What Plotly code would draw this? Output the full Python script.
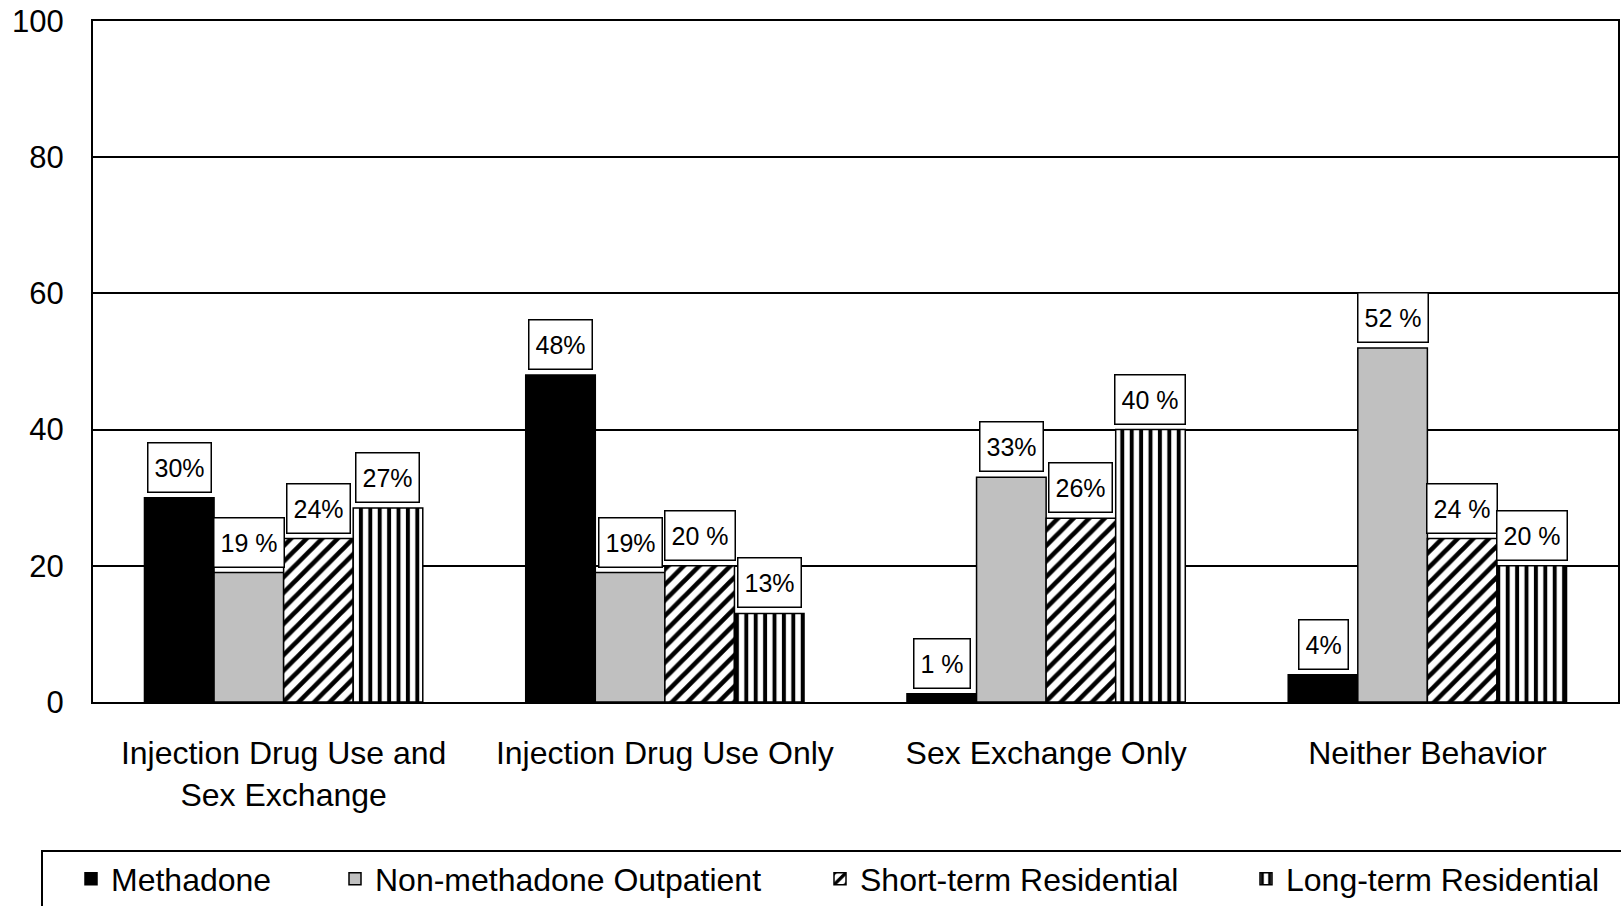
import plotly.graph_objects as go

categories = ["Injection Drug Use and<br>Sex Exchange", "Injection Drug Use Only",
              "Sex Exchange Only", "Neither Behavior"]
series_names = ["Methadone", "Non-methadone Outpatient", "Short-term Residential", "Long-term Residential"]

methadone = [30, 48, 1.2, 4]
non_methadone = [19, 19, 33, 52]
short_term = [24, 20, 27, 24]
long_term = [28.5, 13, 40, 20]

methadone_lbl = ["30%", "48%", "1 %", "4%"]
non_methadone_lbl = ["19 %", "19%", "33%", "52 %"]
short_term_lbl = ["24%", "20 %", "26%", "24 %"]
long_term_lbl = ["27%", "13%", "40 %", "20 %"]

y_ticks = [0, 20, 40, 60, 80, 100]

FONT = "Liberation Sans, Arial, Helvetica, sans-serif"
W, H = 1621, 906
# plot area in page coordinates: left 93, right 1618, top 21, bottom 702
ML, MT = 93, 21
MR = W - 1618
MB = H - 702
PW = W - ML - MR
PH = H - MT - MB


def page_y(py):
    return (702 - py) / PH


def page_x(px):
    return (px - ML) / PW


values = [methadone, non_methadone, short_term, long_term]
labels = [methadone_lbl, non_methadone_lbl, short_term_lbl, long_term_lbl]

markers = [
    dict(color="black", line=dict(color="black", width=1.5)),
    dict(color="#c0c0c0", line=dict(color="black", width=1.5)),
    dict(color="white", line=dict(color="black", width=1.5),
         pattern=dict(shape="/", size=11, solidity=0.42, fgcolor="black", bgcolor="white", fillmode="replace")),
    dict(color="white", line=dict(color="black", width=1.5),
         pattern=dict(shape="|", size=9.4, solidity=0.42, fgcolor="black", bgcolor="white", fillmode="replace")),
]

legend_page_x = [71, 335, 820, 1246]
legend_ids = ["legend", "legend2", "legend3", "legend4"]

fig = go.Figure()
for j, (name, vals) in enumerate(zip(series_names, values)):
    fig.add_trace(go.Bar(x=categories, y=vals, name=name, marker=markers[j],
                         legend=legend_ids[j], hoverinfo="skip"))

bargap = 0.27
bw = (1 - bargap) / 4
annotations = []
for j in range(4):
    for i in range(len(categories)):
        annotations.append(dict(
            x=i + (j - 1.5) * bw, y=values[j][i], xref="x", yref="y",
            text=labels[j][i], showarrow=False, yanchor="bottom", xanchor="center",
            yshift=5, font=dict(family=FONT, size=25, color="black"),
            bgcolor="white", bordercolor="black", borderwidth=1.5, borderpad=6, height=36,
        ))

legend_layouts = {}
for k, lid in enumerate(legend_ids):
    legend_layouts[lid] = dict(
        x=page_x(legend_page_x[k]), xanchor="left", xref="paper",
        y=page_y(879), yanchor="middle", yref="paper",
        orientation="h", bgcolor="rgba(0,0,0,0)", borderwidth=0,
        font=dict(family=FONT, size=32, color="black"),
    )

fig.update_layout(
    width=W, height=H,
    margin=dict(l=ML, r=MR, t=MT, b=MB, pad=0, autoexpand=False),
    paper_bgcolor="white", plot_bgcolor="white",
    barmode="group", bargap=bargap, bargroupgap=0,
    showlegend=True,
    annotations=annotations,
    font=dict(family=FONT, color="black"),
    xaxis=dict(type="category", showline=True, mirror=True, linecolor="black", linewidth=2,
               ticks="", showgrid=False, tickfont=dict(family=FONT, size=32, color="black"),
               ticklabelstandoff=22, range=[-0.5, 3.5], automargin=False),
    yaxis=dict(range=[0, 100], tickvals=y_ticks, showline=True, mirror=True, linecolor="black",
               linewidth=2, ticks="", showgrid=True, gridcolor="black", gridwidth=1.5,
               zeroline=False, tickfont=dict(family=FONT, size=31, color="black"),
               ticklabelstandoff=21, automargin=False),
    shapes=[dict(type="rect", xref="paper", yref="paper",
                 x0=page_x(42), x1=page_x(1640),
                 y0=page_y(851), y1=page_y(930),
                 line=dict(color="black", width=2), fillcolor="rgba(0,0,0,0)", layer="below")],
    **legend_layouts,
)

fig.write_html(
    "out.html",
    config={"displayModeBar": False},
    post_script="document.body.style.margin='0';document.body.style.padding='0';"
                "document.documentElement.style.overflow='hidden';",
)
